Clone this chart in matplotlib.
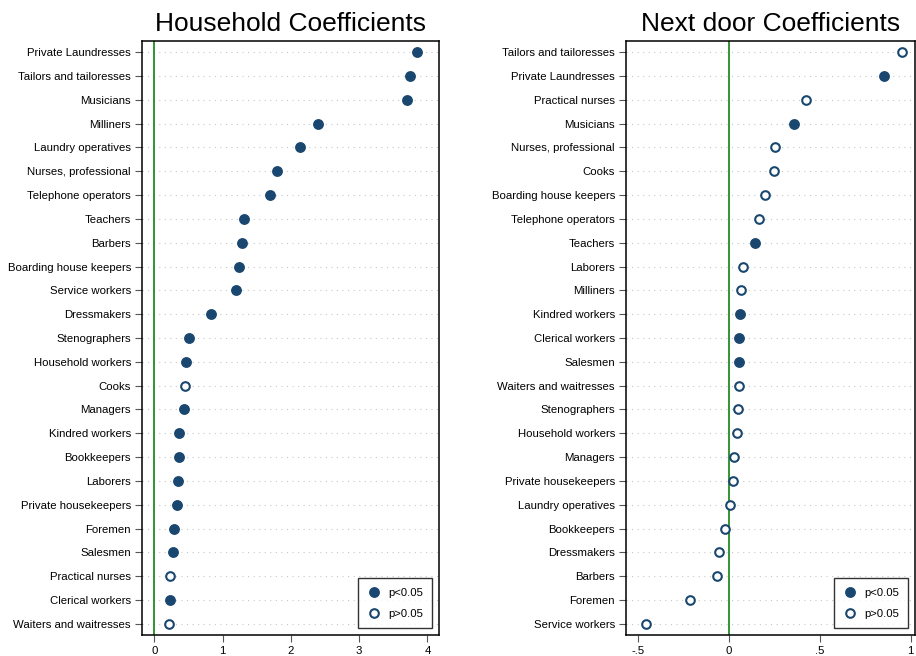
import numpy as np
import matplotlib
matplotlib.use("Agg")
import matplotlib.pyplot as plt
from matplotlib.lines import Line2D

plt.rcParams['font.family'] = ['Liberation Sans', 'DejaVu Sans']

# household panel, top to bottom
hh_jobs = ["Private Laundresses", "Tailors and tailoresses", "Musicians", "Milliners",
           "Laundry operatives", "Nurses, professional", "Telephone operators", "Teachers",
           "Barbers", "Boarding house keepers", "Service workers", "Dressmakers",
           "Stenographers", "Household workers", "Cooks", "Managers", "Kindred workers",
           "Bookkeepers", "Laborers", "Private housekeepers", "Foremen", "Salesmen",
           "Practical nurses", "Clerical workers", "Waiters and waitresses"]
hh_coef = [3.85, 3.74, 3.70, 2.40, 2.13, 1.80, 1.69, 1.32, 1.28, 1.24, 1.20, 0.83,
           0.51, 0.46, 0.45, 0.43, 0.36, 0.355, 0.345, 0.335, 0.29, 0.275, 0.235, 0.23, 0.215]
hh_sig = [1, 1, 1, 1, 1, 1, 1, 1, 1, 1, 1, 1, 1, 1, 0, 1, 1, 1, 1, 1, 1, 1, 0, 1, 0]

# next door panel, top to bottom
nd_jobs = ["Tailors and tailoresses", "Private Laundresses", "Practical nurses", "Musicians",
           "Nurses, professional", "Cooks", "Boarding house keepers", "Telephone operators",
           "Teachers", "Laborers", "Milliners", "Kindred workers", "Clerical workers",
           "Salesmen", "Waiters and waitresses", "Stenographers", "Household workers",
           "Managers", "Private housekeepers", "Laundry operatives", "Bookkeepers",
           "Dressmakers", "Barbers", "Foremen", "Service workers"]
nd_coef = [0.954, 0.855, 0.425, 0.359, 0.254, 0.249, 0.196, 0.166, 0.143, 0.079, 0.068,
           0.062, 0.057, 0.055, 0.055, 0.048, 0.043, 0.027, 0.024, 0.005, -0.022, -0.053,
           -0.068, -0.216, -0.456]
nd_sig = [0, 1, 0, 1, 0, 0, 0, 0, 1, 0, 0, 1, 1, 1, 0, 0, 0, 0, 0, 0, 0, 0, 0, 0, 0]

navy = '#1a476f'


def dotpanel(ax, jobs, coef, sig, title, xlim, xticks, xlabels, width_px):
    n = len(jobs)
    y = np.arange(n)[::-1]
    coef = np.array(coef)
    sig = np.array(sig, dtype=bool)
    for yy in y:
        ax.axhline(yy, color='#c8c8c8', lw=0.8, ls=(0, (1, 4)), zorder=0)
    ax.axvline(0, color='#108010', lw=1.2, zorder=1)
    ax.plot(coef[sig], y[sig], 'o', ms=6.8, color=navy, zorder=3)
    ax.plot(coef[~sig], y[~sig], 'o', ms=6.2, mfc='white', mec=navy, mew=1.5, zorder=3)
    ax.set_yticks(y)
    ax.set_yticklabels(jobs, fontsize=8.2)
    ax.set_ylim(-0.47, n - 0.53)
    ax.set_xlim(*xlim)
    ax.set_xticks(xticks)
    ax.set_xticklabels(xlabels, fontsize=8.2)
    ax.tick_params(axis='y', length=5, color='#555555', pad=3)
    ax.tick_params(axis='x', length=5, color='#555555', pad=3)
    for s in ax.spines.values():
        s.set_linewidth(1.1)
    ax.set_title(title, fontsize=19, pad=7)
    handles = [Line2D([], [], ls='', marker='o', ms=6.8, color=navy),
               Line2D([], [], ls='', marker='o', ms=6.2, mfc='white', mec=navy, mew=1.5)]
    leg = ax.legend(handles, ['p<0.05', 'p>0.05'], loc='lower right', fontsize=8.2,
                    frameon=True, fancybox=False, edgecolor='black', handletextpad=0.6,
                    borderpad=0.8, labelspacing=1.0, handlelength=1.2, borderaxespad=0,
                    bbox_to_anchor=(1 - 7 / width_px, 7 / 594))
    leg.get_frame().set_linewidth(1.0)


fig = plt.figure(figsize=(9.16, 6.56), dpi=100)
ax1 = fig.add_axes([142 / 916, 21 / 656, 297 / 916, 594 / 656])
ax2 = fig.add_axes([626 / 916, 21 / 656, 289 / 916, 594 / 656])

dotpanel(ax1, hh_jobs, hh_coef, hh_sig, "Household Coefficients",
         (-0.18, 4.17), [0, 1, 2, 3, 4], ["0", "1", "2", "3", "4"], 297)
dotpanel(ax2, nd_jobs, nd_coef, nd_sig, "Next door Coefficients",
         (-0.566, 1.024), [-0.5, 0, 0.5, 1], ["-.5", "0", ".5", "1"], 289)

fig.savefig("out.png", dpi=100)
